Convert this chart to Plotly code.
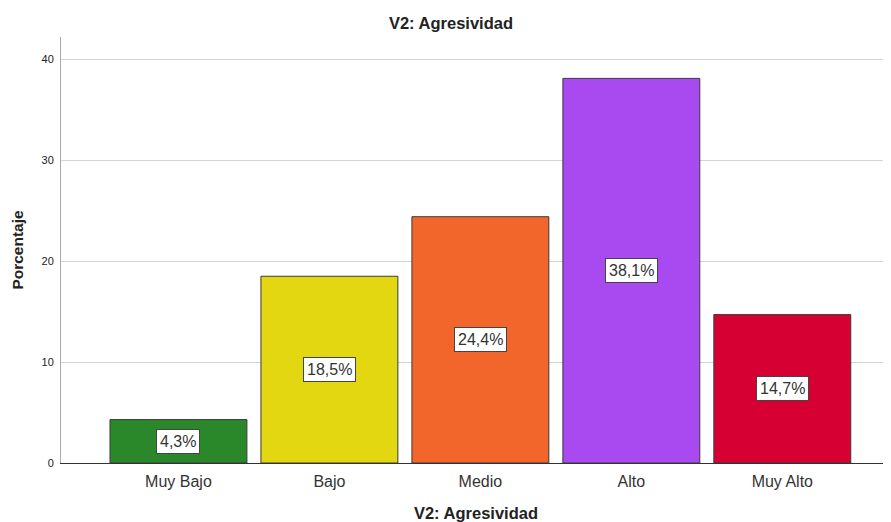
import plotly.graph_objects as go

categories = ["Muy Bajo", "Bajo", "Medio", "Alto", "Muy Alto"]
values = [4.3, 18.5, 24.4, 38.1, 14.7]
labels = ["4,3%", "18,5%", "24,4%", "38,1%", "14,7%"]
colors = ["#2a882a", "#e2d710", "#f2662b", "#a94af0", "#d60032"]
y_ticks = [0, 10, 20, 30, 40]

fig = go.Figure()
fig.add_trace(go.Bar(
    x=list(range(len(categories))), y=values,
    marker=dict(color=colors, line=dict(color="#3a3a3a", width=1)),
    width=0.907, hoverinfo="skip",
))
for i, (v, t) in enumerate(zip(values, labels)):
    fig.add_annotation(x=i, y=v / 2, text=t, showarrow=False,
                       font=dict(family="Liberation Sans, Arial", size=16, color="#333"),
                       bgcolor="white", bordercolor="#444", borderwidth=1, borderpad=3)

fig.update_layout(
    width=883, height=514,
    margin=dict(l=53, r=0, t=29, b=59, autoexpand=False),
    plot_bgcolor="white", paper_bgcolor="white",
    showlegend=False,
    font=dict(family="Liberation Sans, Arial", color="#222"),
    title=dict(text="<b>V2: Agresividad</b>", x=443 / 883, xanchor="center", y=1 - 15 / 514, yanchor="middle",
               font=dict(size=16.5, color="#222")),
)
fig.update_xaxes(
    tickmode="array", tickvals=list(range(len(categories))), ticktext=categories,
    range=[-0.778, 4.72], showgrid=False, zeroline=False, automargin=False,
    showline=True, linecolor="#333", linewidth=1, ticks="", ticklabelstandoff=4,
    tickfont=dict(size=16, color="#333"),
    title=dict(text="<b>V2: Agresividad</b>", font=dict(size=16.5, color="#222"), standoff=23),
)
fig.update_yaxes(
    range=[0, 42.2], tickvals=y_ticks, showgrid=True, gridcolor="#d4d4d4", gridwidth=1,
    zeroline=False, showline=True, linecolor="#aaa", linewidth=1, ticks="", automargin=False,
    tickfont=dict(size=11, color="#222"), ticklabelstandoff=4,
    title=dict(text="<b>Porcentaje</b>", font=dict(size=15.5, color="#222"), standoff=14),
)
fig.write_html("out.html")
